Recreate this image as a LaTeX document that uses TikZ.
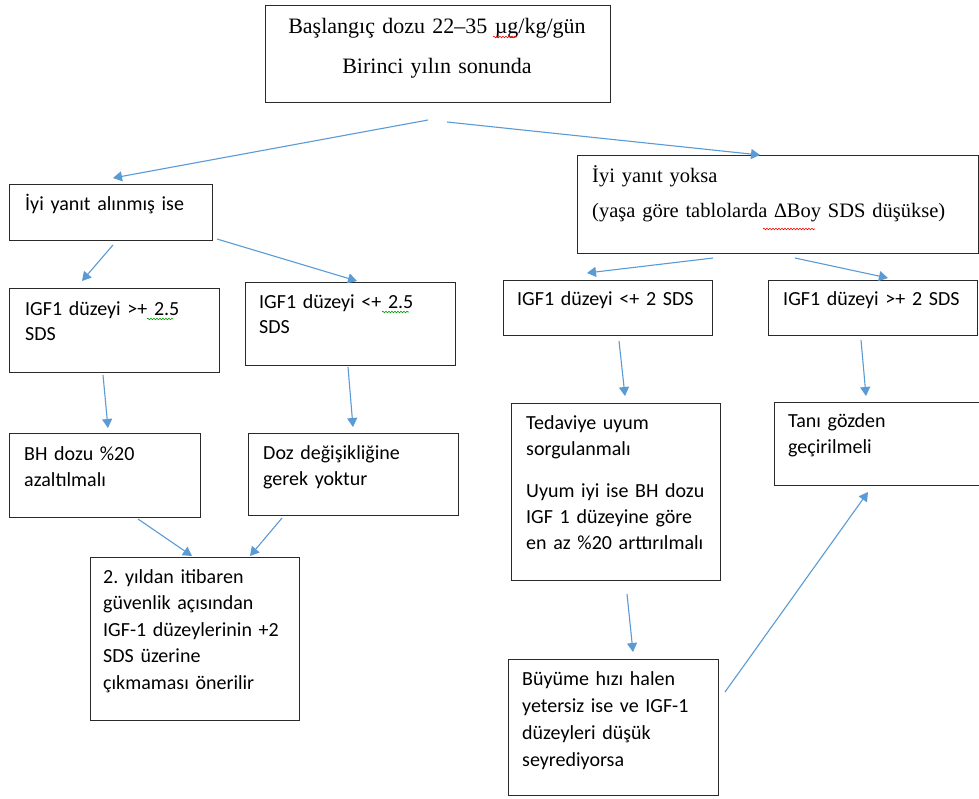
\documentclass[tikz,border=0pt]{standalone}
\usepackage{fontspec}
\setmainfont{Liberation Serif}
\newfontfamily\calibri{Carlito}
\usetikzlibrary{arrows.meta,decorations.pathmorphing}
\frenchspacing
\definecolor{arrowblue}{HTML}{5B9BD5}
\definecolor{boxline}{HTML}{2A2A2A}
\newcommand\calfont[2]{\calibri\fontsize{#1}{#2}\selectfont\spaceskip=2.9pt plus 1pt minus 0.5pt\relax}
\tikzset{
  box/.style={draw=boxline, line width=1.2pt, rectangle, inner sep=0pt, anchor=north west},
  arr/.style={draw=arrowblue, line width=1.1pt, -{Triangle[length=9pt,width=10pt]}},
  ctext/.style={anchor=base west, inner sep=0pt, align=left, text width=#1,
    font=\calfont{20}{26}},
  ctext/.default=200pt,
  wavyred/.style={draw=red, line width=0.6pt, decorate, decoration={snake, amplitude=0.8pt, segment length=3pt}},
  wavygreen/.style={draw=green!60!black, line width=0.6pt, decorate, decoration={snake, amplitude=0.8pt, segment length=3pt}},
}
\begin{document}
\begin{tikzpicture}[x=1pt,y=-1pt]
\useasboundingbox[fill=white] (0,0) rectangle (979,798);

% boxes
\node[box, minimum width=345pt, minimum height=97pt] (b0) at (265,5) {};
\node[box, minimum width=203pt, minimum height=56pt] (b1) at (9,184) {};
\node[box, minimum width=401pt, minimum height=98pt] (b2) at (577,155) {};
\node[box, minimum width=210pt, minimum height=84pt] (b3) at (9,288) {};
\node[box, minimum width=210pt, minimum height=83pt] (b4) at (245,282) {};
\node[box, minimum width=209pt, minimum height=55pt] (b5) at (503,280) {};
\node[box, minimum width=209pt, minimum height=55pt] (b6) at (768,280) {};
\node[box, minimum width=191pt, minimum height=84pt] (b7) at (9,433) {};
\node[box, minimum width=210pt, minimum height=82pt] (b8) at (248,433) {};
\node[box, minimum width=209pt, minimum height=163pt] (b9) at (90,557) {};
\node[box, minimum width=209pt, minimum height=177pt] (b10) at (511,403) {};
\node[box, minimum width=210pt, minimum height=83pt] (b11) at (774,402) {};
\node[box, minimum width=210pt, minimum height=136pt] (b12) at (508,659) {};

% texts
\node[anchor=base, inner sep=0pt, align=center, text width=340pt,
  font=\fontsize{22}{40}\selectfont] (t0) at (437,33)
  {Başlangıç dozu 22–35 µg/kg/gün\\Birinci yılın sonunda};
\node[anchor=base west, inner sep=0pt, align=left, text width=380pt,
  font=\fontsize{20.5}{35}\selectfont] (t2) at (592,182)
  {İyi yanıt yoksa\\(yaşa göre tablolarda ∆Boy SDS düşükse)};
\node[ctext] (t1) at (25,210) {İyi yanıt alınmış ise};
\node[ctext, font=\calfont{20}{25}] (t3) at (25,315) {IGF1 düzeyi >+ 2.5\\SDS};
\node[ctext, font=\calfont{20}{25}] (t4) at (259,308) {IGF1 düzeyi <+ 2.5\\SDS};
\node[ctext] (t5) at (517,305) {IGF1 düzeyi <+ 2 SDS};
\node[ctext] (t6) at (783,305) {IGF1 düzeyi >+ 2 SDS};
\node[ctext] (t7) at (24,460) {BH dozu \%20\\azaltılmalı};
\node[ctext] (t8) at (263,459) {Doz değişikliğine\\gerek yoktur};
\node[ctext, font=\calfont{20}{26.5}] (t9) at (103,583)
  {2. yıldan itibaren\\güvenlik açısından\\IGF-1 düzeylerinin +2\\SDS üzerine\\çıkmaması önerilir};
\node[ctext] (t10) at (526,429)
  {Tedaviye uyum\\sorgulanmalı\\[16pt]Uyum iyi ise BH dozu\\IGF 1 düzeyine göre\\en az \%20 arttırılmalı};
\node[ctext] (t11) at (788,427) {Tanı gözden\\geçirilmeli};
\node[ctext, font=\calfont{20}{27}] (t12) at (522,685)
  {Büyüme hızı halen\\yetersiz ise ve IGF-1\\düzeyleri düşük\\seyrediyorsa};

% spell-check underlines
\draw[wavyred] (493,37) -- (517,37);
\draw[wavyred] (763,229) -- (815,229);
\draw[wavygreen] (147,319) -- (173,319);
\draw[wavygreen] (382,312) -- (409,312);

% arrow end points
\coordinate (a1s) at (428,120);  \coordinate (a1e) at (113,178);
\coordinate (a2s) at (447,122);  \coordinate (a2e) at (760,155);
\coordinate (a3s) at (113,245);  \coordinate (a3e) at (82,281);
\coordinate (a4s) at (217,239);  \coordinate (a4e) at (357,281);
\coordinate (a5s) at (713,258);  \coordinate (a5e) at (587,273);
\coordinate (a6s) at (795,258);  \coordinate (a6e) at (888,278);
\coordinate (a7s) at (103,375);  \coordinate (a7e) at (108,428);
\coordinate (a8s) at (348,367);  \coordinate (a8e) at (353,427);
\coordinate (a9s) at (619,341);  \coordinate (a9e) at (625,396);
\coordinate (a10s) at (861,340); \coordinate (a10e) at (866,396);
\coordinate (a11s) at (138,519); \coordinate (a11e) at (192,556);
\coordinate (a12s) at (282,518); \coordinate (a12e) at (250,556);
\coordinate (a13s) at (627,594); \coordinate (a13e) at (633,652);
\coordinate (a14s) at (725,692); \coordinate (a14e) at (868,492);

\draw[arr] (a1s) -- (a1e);
\draw[arr] (a2s) -- (a2e);
\draw[arr] (a3s) -- (a3e);
\draw[arr] (a4s) -- (a4e);
\draw[arr] (a5s) -- (a5e);
\draw[arr] (a6s) -- (a6e);
\draw[arr] (a7s) -- (a7e);
\draw[arr] (a8s) -- (a8e);
\draw[arr] (a9s) -- (a9e);
\draw[arr] (a10s) -- (a10e);
\draw[arr] (a11s) -- (a11e);
\draw[arr] (a12s) -- (a12e);
\draw[arr] (a13s) -- (a13e);
\draw[arr] (a14s) -- (a14e);
\end{tikzpicture}
\end{document}
